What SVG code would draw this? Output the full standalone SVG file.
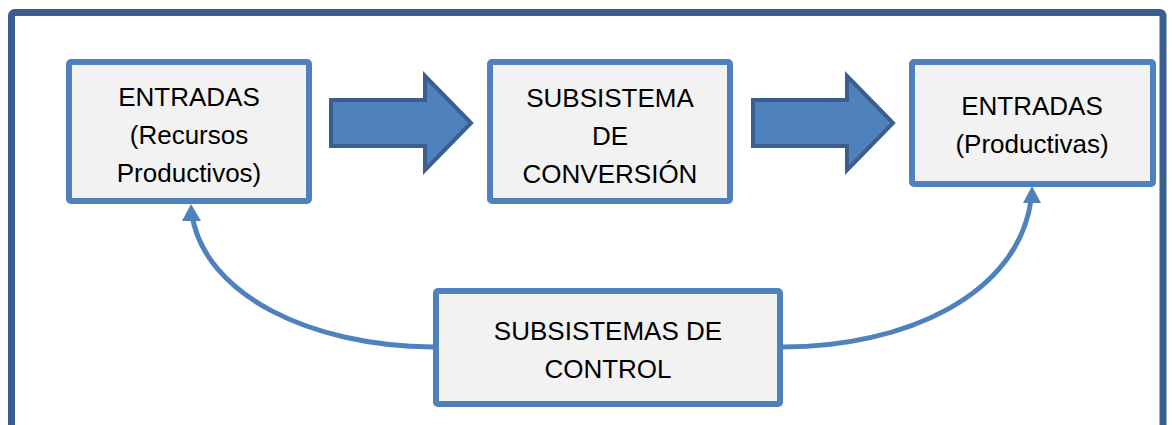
<svg xmlns="http://www.w3.org/2000/svg" width="1172" height="425" viewBox="0 0 1172 425">
<style>
.box{fill:#F2F2F2;stroke:#4F81BD;stroke-width:6}
.t{font-family:"Liberation Sans",Arial,sans-serif;font-size:26px;fill:#000;text-anchor:middle}
.blk{fill:#4F81BD;stroke:#3A5F8E;stroke-width:4;stroke-linejoin:miter}
.cur{fill:none;stroke:#4F81BD;stroke-width:5}
</style>
<rect x="11.5" y="12.5" width="1151.5" height="430" rx="3" fill="#fff" stroke="#3A5F8E" stroke-width="7"/>
<g id="connectors">
<path class="blk" d="M331,100 H425 V76 L471,123 L425,170 V146 H331 Z"/>
<path class="blk" d="M753,100 H847 V76 L893,123 L847,170 V146 H753 Z"/>
<path class="cur" d="M433,347 C310,346 205,295 192,215" />
<path d="M191,204 L182,221 L201,221 Z" fill="#4F81BD"/>
<path class="cur" d="M783,347 C905,347 1018,295 1031,200" />
<path d="M1032,186 L1023,203 L1041,203 Z" fill="#4F81BD"/>
</g>
<g id="n1">
<rect class="box" x="69" y="62" width="240" height="139" rx="2"/>
<text class="t" x="189" y="106">ENTRADAS</text>
<text class="t" x="189" y="144">(Recursos</text>
<text class="t" x="189" y="182">Productivos)</text>
</g>
<g id="n2">
<rect class="box" x="490" y="62" width="240" height="139" rx="2"/>
<text class="t" x="610" y="107">SUBSISTEMA</text>
<text class="t" x="610" y="145">DE</text>
<text class="t" x="610" y="183">CONVERSIÓN</text>
</g>
<g id="n3">
<rect class="box" x="912" y="62" width="241" height="122" rx="2"/>
<text class="t" x="1032" y="115">ENTRADAS</text>
<text class="t" x="1032" y="153">(Productivas)</text>
</g>
<g id="n4">
<rect class="box" x="436" y="291" width="344" height="113" rx="2"/>
<text class="t" x="608" y="340">SUBSISTEMAS DE</text>
<text class="t" x="608" y="378">CONTROL</text>
</g>
</svg>
